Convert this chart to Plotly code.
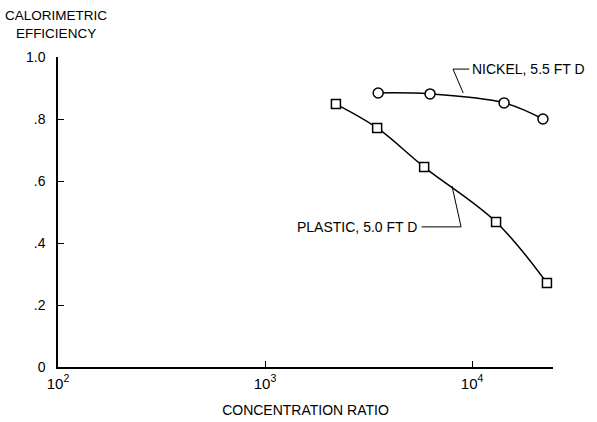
import math
import plotly.graph_objects as go

# Data
plastic_x = [2200, 3480, 5870, 13060, 23000]
plastic_y = [0.848, 0.771, 0.645, 0.468, 0.271]
nickel_x = [3520, 6270, 14280, 22000]
nickel_y = [0.884, 0.881, 0.852, 0.800]

xtick_vals = [100, 1000, 10000]
xtick_text = ["10<sup>2</sup>", "10<sup>3</sup>", "10<sup>4</sup>"]
ytick_vals = [0, 0.2, 0.4, 0.6, 0.8, 1.0]
ytick_text = ["0", ".2", ".4", ".6", ".8", "1.0"]

# Label leader lines (annotation geometry, data coords)
nickel_leader_x = [9700, 8090, 9060]
nickel_leader_y = [0.961, 0.961, 0.884]
plastic_leader_x = [5700, 8850, 8000]
plastic_leader_y = [0.452, 0.452, 0.584]

FONT = "Liberation Sans, Arial, sans-serif"

fig = go.Figure()

fig.add_trace(go.Scatter(
    x=nickel_leader_x, y=nickel_leader_y, mode="lines",
    line=dict(color="black", width=1), hoverinfo="skip", showlegend=False))
fig.add_trace(go.Scatter(
    x=plastic_leader_x, y=plastic_leader_y, mode="lines",
    line=dict(color="black", width=1), hoverinfo="skip", showlegend=False))

fig.add_trace(go.Scatter(
    x=plastic_x, y=plastic_y, mode="lines+markers",
    line=dict(color="black", width=1.5, shape="spline"),
    marker=dict(symbol="square", size=9, color="white",
                line=dict(color="black", width=1.5)),
    name="PLASTIC, 5.0 FT D", showlegend=False))
fig.add_trace(go.Scatter(
    x=nickel_x, y=nickel_y, mode="lines+markers",
    line=dict(color="black", width=1.5, shape="spline"),
    marker=dict(symbol="circle", size=10, color="white",
                line=dict(color="black", width=1.5)),
    name="NICKEL, 5.5 FT D", showlegend=False))

fig.add_annotation(x=math.log10(nickel_leader_x[0]) + 0.004, y=nickel_leader_y[0],
                   xref="x", yref="y", xanchor="left", yanchor="middle",
                   text="NICKEL, 5.5 FT D", showarrow=False,
                   font=dict(size=14, color="black", family=FONT))
fig.add_annotation(x=math.log10(plastic_leader_x[0]) - 0.01, y=plastic_leader_y[0],
                   xref="x", yref="y", xanchor="right", yanchor="middle",
                   text="PLASTIC, 5.0 FT D", showarrow=False,
                   font=dict(size=14, color="black", family=FONT))
fig.add_annotation(x=-0.005, y=1.0, xref="paper", yref="paper",
                   xanchor="center", yanchor="bottom", yshift=14,
                   text="CALORIMETRIC<br>EFFICIENCY", showarrow=False,
                   align="center",
                   font=dict(size=13.5, color="black", family=FONT))

fig.update_xaxes(
    type="log", range=[2, 4.391],
    tickvals=xtick_vals, ticktext=xtick_text,
    ticks="inside", ticklen=6, tickcolor="black", tickwidth=1,
    showline=True, linecolor="black", linewidth=1.5,
    showgrid=False, zeroline=False, ticklabelstandoff=2,
    tickfont=dict(size=15, color="black", family=FONT),
    title=dict(text="CONCENTRATION RATIO", standoff=14,
               font=dict(size=14, color="black", family=FONT)))
fig.update_yaxes(
    range=[0, 1.0], tickvals=ytick_vals, ticktext=ytick_text,
    ticks="inside", ticklen=6, tickcolor="black", tickwidth=1,
    showline=True, linecolor="black", linewidth=1.5,
    showgrid=False, zeroline=False, ticklabelstandoff=8,
    tickfont=dict(size=14, color="black", family=FONT))

fig.update_layout(
    width=597, height=422,
    margin=dict(l=58, r=44, t=57, b=55, autoexpand=False),
    plot_bgcolor="white", paper_bgcolor="white",
    font=dict(family=FONT, color="black"))

fig.write_html("out.html", config={"displayModeBar": False},
               post_script="document.body.style.margin='0';document.body.style.overflow='hidden';")
